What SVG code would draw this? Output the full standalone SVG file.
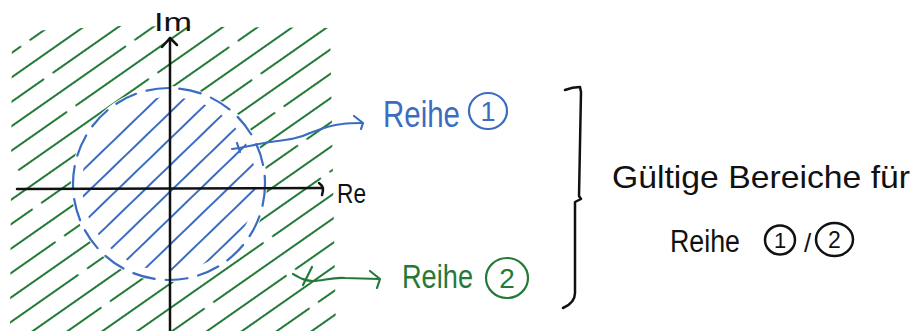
<svg xmlns="http://www.w3.org/2000/svg" width="920" height="331" viewBox="0 0 920 331">
<style>
  .ink{fill:none;stroke:#111;stroke-width:2.5;stroke-linecap:round;stroke-linejoin:round}
  .blue{fill:none;stroke:#3b6cc2;stroke-width:2.2;stroke-linecap:round;stroke-linejoin:round}
  .green{fill:none;stroke:#237a36;stroke-width:2.2;stroke-linecap:round;stroke-linejoin:round}
  .txt{font-family:"Liberation Sans","DejaVu Sans",sans-serif}
  .tb{fill:#3b6cc2}
  .tg{fill:#237a36}
  .tk{fill:#111}
</style>
<defs>
  <pattern id="greenHatch" patternUnits="userSpaceOnUse" width="170" height="40" patternTransform="rotate(-35)">
    <g stroke="#237a36" stroke-width="2" stroke-linecap="round">
      <line x1="2" y1="10" x2="160" y2="10"/>
      <line x1="88" y1="30" x2="170" y2="30"/>
      <line x1="0" y1="30" x2="76" y2="30"/>
    </g>
  </pattern>
  <pattern id="blueHatch" patternUnits="userSpaceOnUse" width="170" height="19" patternTransform="rotate(-44)">
    <line x1="0" y1="9" x2="170" y2="9" stroke="#3b6cc2" stroke-width="2"/>
  </pattern>
  <clipPath id="greenClip">
    <path clip-rule="evenodd" d="M12,32 L120,26 L330,28 L336,331 L10,331 Z M71,184 A98,98 0 1,0 267,184 A98,98 0 1,0 71,184 Z"/>
  </clipPath>
  <clipPath id="blueClip">
    <circle cx="169" cy="184" r="87"/>
  </clipPath>
</defs>

<g id="hatch-green">
  <rect x="0" y="0" width="360" height="331" fill="url(#greenHatch)" clip-path="url(#greenClip)"/>
</g>
<g id="hatch-blue">
  <rect x="70" y="85" width="200" height="200" fill="url(#blueHatch)" clip-path="url(#blueClip)"/>
</g>
<g id="circle">
  <circle cx="169" cy="184" r="96" class="blue" stroke-dasharray="22 11"/>
</g>

<g id="axes">
  <line x1="17" y1="189" x2="323" y2="188" class="ink"/>
  <path d="M319,183 Q325,187 322,195" class="ink"/>
  <line x1="170" y1="331" x2="170" y2="38" class="ink"/>
  <path d="M162,47 L170,38 L177,45" class="ink"/>
  <text x="154" y="31" class="txt tk" font-size="26" textLength="38" lengthAdjust="spacingAndGlyphs">Im</text>
  <text x="337" y="203" class="txt tk" font-size="28" textLength="29" lengthAdjust="spacingAndGlyphs">Re</text>
</g>

<g id="connectors">
  <path d="M232,149 C245,148 255,144 270,142 C285,140 298,139 310,133 C320,129 330,125 342,124 C350,123 356,123 362,123" class="blue"/>
  <path d="M237,143 L240,152" class="blue"/>
  <path d="M354,116 L363,123 L361,129" class="blue"/>
  <path d="M293,274 C300,278 305,281 313,281 C323,281 332,277 345,278 L379,279" class="green"/>
  <path d="M312,267 L303,285" class="green"/>
  <path d="M370,271 L380,279 L377,288" class="green"/>
</g>

<g id="label-reihe1">
  <text x="383" y="127" class="txt tb" font-size="37" textLength="77" lengthAdjust="spacingAndGlyphs">Reihe</text>
  <ellipse cx="488" cy="111" rx="19" ry="18" class="blue"/>
  <text x="488" y="121" class="txt tb" font-size="27" text-anchor="middle">1</text>
</g>

<g id="label-reihe2">
  <text x="402" y="288" class="txt tg" font-size="33" textLength="71" lengthAdjust="spacingAndGlyphs">Reihe</text>
  <ellipse cx="507" cy="278" rx="21" ry="20" class="green"/>
  <text x="507" y="288" class="txt tg" font-size="28" text-anchor="middle">2</text>
</g>

<g id="bracket">
  <path d="M565,90 C570,88 576,87 580,87 L581,92 L579,196 L581,199 L575,202 L575,293 C575,300 570,305 563,308" class="ink"/>
</g>

<g id="caption">
  <text x="612" y="188" class="txt tk" font-size="32" textLength="298" lengthAdjust="spacingAndGlyphs">Gültige Bereiche für</text>
  <text x="670" y="252" class="txt tk" font-size="31" textLength="70" lengthAdjust="spacingAndGlyphs">Reihe</text>
  <ellipse cx="780" cy="240" rx="15" ry="14.5" class="ink" stroke-width="2"/>
  <text x="780" y="248" class="txt tk" font-size="22" text-anchor="middle">1</text>
  <text x="804" y="252" class="txt tk" font-size="26">/</text>
  <ellipse cx="834.5" cy="239.5" rx="18.5" ry="16.5" class="ink" stroke-width="2"/>
  <text x="834.5" y="248" class="txt tk" font-size="23" text-anchor="middle">2</text>
</g>
</svg>
